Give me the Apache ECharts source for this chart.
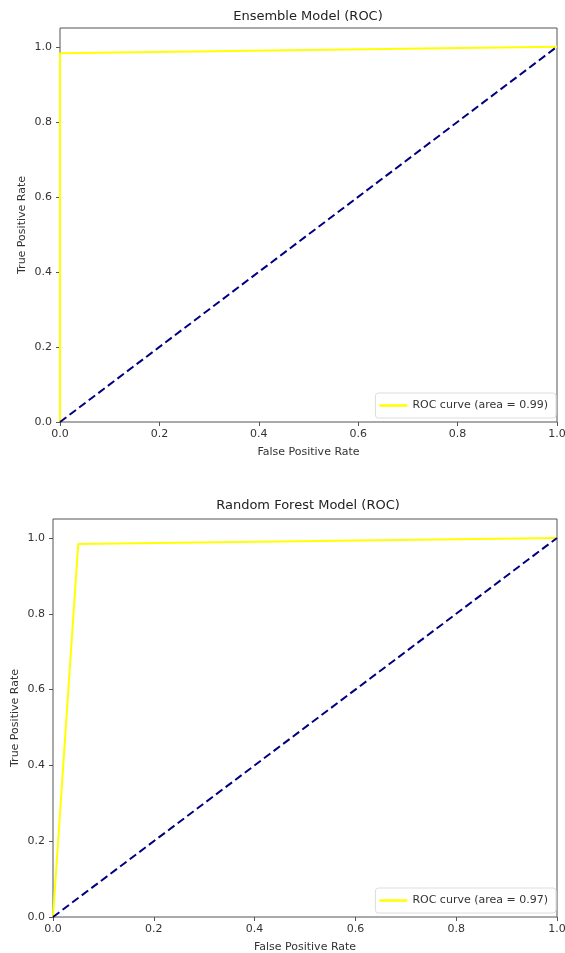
<!DOCTYPE html>
<html>
<head>
<meta charset="utf-8">
<script src="https://cdn.jsdelivr.net/npm/echarts@6/dist/echarts.min.js"></script>
<style>
  html, body { margin: 0; padding: 0; background: #fff; }
  #chart { width: 565px; height: 953px; }
</style>
</head>
<body>
<div id="chart"></div>
<script>
// ROC points
const fprEnsemble = [0, 0, 1];
const tprEnsemble = [0, 0.983, 1];
const fprForest = [0, 0.05, 1];
const tprForest = [0, 0.984, 1];
const chanceLine = [0, 1];
const tickValues = [0, 0.2, 0.4, 0.6, 0.8, 1.0];
const titles = ['Ensemble Model (ROC)', 'Random Forest Model (ROC)'];
const curveNames = ['ROC curve (area = 0.99)', 'ROC curve (area = 0.97)'];

const font = 'DejaVu Sans';
const pairs = (xs, ys) => xs.map((x, i) => [x, ys[i]]);

const xAxisFor = (gi) => ({
    type: 'value', gridIndex: gi, min: 0, max: 1,
    name: 'False Positive Rate', nameLocation: 'middle', nameGap: 25, nameMoveOverlap: false,
    nameTextStyle: {fontFamily: font, fontSize: 11, color: '#333'},
    axisLine: {show: false},
    axisTick: {show: true, length: 4, lineStyle: {color: '#555'}, customValues: tickValues},
    axisLabel: {fontFamily: font, fontSize: 11, color: '#333', margin: 7,
        customValues: tickValues, formatter: v => v.toFixed(1)},
    splitLine: {show: false}
});

const yAxisFor = (gi) => ({
    type: 'value', gridIndex: gi, min: 0, max: 1.05,
    name: 'True Positive Rate', nameLocation: 'middle', nameGap: 32, nameMoveOverlap: false,
    nameTextStyle: {fontFamily: font, fontSize: 11, color: '#333'},
    axisLine: {show: false},
    axisTick: {show: true, length: 4, lineStyle: {color: '#555'}, customValues: tickValues},
    axisLabel: {fontFamily: font, fontSize: 11, color: '#333', margin: 8,
        customValues: tickValues, formatter: v => v.toFixed(1)},
    splitLine: {show: false}
});

const legendFor = (top, name) => ({
    right: 9, top: top, data: [name], icon: 'rect', itemWidth: 28, itemHeight: 2.5,
    padding: [7, 8, 7, 4], borderColor: '#ddd', borderWidth: 1, borderRadius: 3,
    backgroundColor: 'rgba(255,255,255,0.8)',
    textStyle: {fontFamily: font, fontSize: 11, color: '#333'}
});

const options = {
    animation: false,
    title: [
        {text: titles[0], left: 308, textAlign: 'center', top: 10, padding: 0,
            textStyle: {fontFamily: font, fontSize: 13, fontWeight: 'normal', color: '#222'}},
        {text: titles[1], left: 308, textAlign: 'center', top: 499, padding: 0,
            textStyle: {fontFamily: font, fontSize: 13, fontWeight: 'normal', color: '#222'}}
    ],
    grid: [
        {left: 60, top: 28, width: 497, height: 394, show: true, borderColor: '#555', borderWidth: 1,
            outerBoundsMode: 'none', containLabel: false},
        {left: 53, top: 519, width: 504, height: 398, show: true, borderColor: '#555', borderWidth: 1,
            outerBoundsMode: 'none', containLabel: false}
    ],
    legend: [legendFor(393, curveNames[0]), legendFor(888, curveNames[1])],
    xAxis: [xAxisFor(0), xAxisFor(1)],
    yAxis: [yAxisFor(0), yAxisFor(1)],
    series: [
        {
            name: curveNames[0], type: 'line', xAxisIndex: 0, yAxisIndex: 0,
            data: pairs(fprEnsemble, tprEnsemble), showSymbol: false, color: '#ffff00',
            lineStyle: {color: '#ffff00', width: 2}
        },
        {
            name: 'chance0', type: 'line', xAxisIndex: 0, yAxisIndex: 0,
            data: pairs(chanceLine, chanceLine), showSymbol: false,
            lineStyle: {color: '#000080', width: 2, type: [8, 4]}
        },
        {
            name: curveNames[1], type: 'line', xAxisIndex: 1, yAxisIndex: 1,
            data: pairs(fprForest, tprForest), showSymbol: false, color: '#ffff00',
            lineStyle: {color: '#ffff00', width: 2}
        },
        {
            name: 'chance1', type: 'line', xAxisIndex: 1, yAxisIndex: 1,
            data: pairs(chanceLine, chanceLine), showSymbol: false,
            lineStyle: {color: '#000080', width: 2, type: [8, 4]}
        }
    ]
};

const chart = echarts.init(document.getElementById('chart'));
chart.setOption(options);
</script>
</body>
</html>
